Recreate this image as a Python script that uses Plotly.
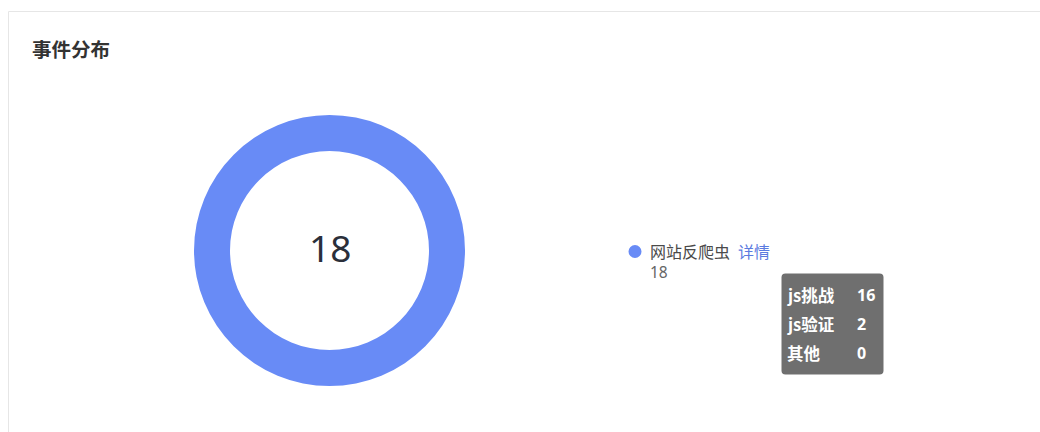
import plotly.graph_objects as go

W, H = 1040, 432

# Data
categories = ["网站反爬虫"]
values = [18]
detail_labels = ["js挑战", "js验证", "其他"]
detail_values = [16, 2, 0]
title_text = "事件分布"
detail_link = "详情"
ring_color = "#688bf6"

def px(x):
    return x / W

def py(y):
    return 1 - y / H

cx, cy, R = 329.5, 250.5, 135.5
hole = 99.5 / 135.5

fig = go.Figure()
fig.add_trace(go.Pie(
    labels=categories, values=values, hole=hole, sort=False,
    marker=dict(colors=[ring_color], line=dict(width=0)),
    textinfo="none", hoverinfo="skip", showlegend=False,
    domain=dict(x=[px(cx - R), px(cx + R)], y=[py(cy + R), py(cy - R)]),
))

CJK = "Noto Sans CJK SC"
anns = []
# title
anns.append(dict(x=px(30), y=py(48), text="<b>" + title_text + "</b>", showarrow=False,
                 xanchor="left", yanchor="middle", font=dict(family=CJK, size=19.5, color="#333333")))
# centre total
anns.append(dict(x=px(cx), y=py(247), text=str(sum(values)), showarrow=False,
                 xanchor="center", yanchor="middle", font=dict(family="Noto Sans", size=37, color="#2b2f3a")))
# legend
anns.append(dict(x=px(648), y=py(251), text=categories[0], showarrow=False,
                 xanchor="left", yanchor="middle", font=dict(family=CJK, size=16, color="#4a4a4a")))
anns.append(dict(x=px(736), y=py(251), text=detail_link, showarrow=False,
                 xanchor="left", yanchor="middle", font=dict(family=CJK, size=16, color="#5b7be0")))
anns.append(dict(x=px(648), y=py(272), text=str(values[0]), showarrow=False,
                 xanchor="left", yanchor="middle", font=dict(family="Noto Sans", size=15.5, color="#666666")))
# tooltip rows
row_y = [295, 324, 353]
for lab, val, yy in zip(detail_labels, detail_values, row_y):
    anns.append(dict(x=px(785), y=py(yy), text="<b>" + lab + "</b>", showarrow=False,
                     xanchor="left", yanchor="middle", font=dict(family=CJK, size=16.5, color="#ffffff")))
    anns.append(dict(x=px(855), y=py(yy), text="<b>" + str(val) + "</b>", showarrow=False,
                     xanchor="left", yanchor="middle", font=dict(family="Noto Sans", size=16, color="#ffffff")))

shapes = []
# card border
shapes.append(dict(type="rect", xref="paper", yref="paper", x0=px(8.5), x1=px(1060), y0=py(460), y1=py(11.5),
                   line=dict(color="#e6e6e6", width=1), fillcolor="rgba(0,0,0,0)", layer="below"))
# legend dot
shapes.append(dict(type="circle", xref="paper", yref="paper", x0=px(628.5), x1=px(641.5), y0=py(258), y1=py(245),
                   line=dict(width=0), fillcolor=ring_color))
# tooltip rounded box
x0, x1, y0, y1, r = 781.5, 883.5, 273.5, 374.5, 4
path = (f"M {px(x0+r)},{py(y0)} L {px(x1-r)},{py(y0)} Q {px(x1)},{py(y0)} {px(x1)},{py(y0+r)} "
        f"L {px(x1)},{py(y1-r)} Q {px(x1)},{py(y1)} {px(x1-r)},{py(y1)} "
        f"L {px(x0+r)},{py(y1)} Q {px(x0)},{py(y1)} {px(x0)},{py(y1-r)} "
        f"L {px(x0)},{py(y0+r)} Q {px(x0)},{py(y0)} {px(x0+r)},{py(y0)} Z")
shapes.append(dict(type="path", xref="paper", yref="paper", path=path,
                   line=dict(width=0), fillcolor="rgba(90,90,90,0.87)", layer="below"))

fig.update_layout(
    width=W, height=H, margin=dict(l=0, r=0, t=0, b=0),
    paper_bgcolor="#ffffff", plot_bgcolor="#ffffff",
    annotations=anns, shapes=shapes, showlegend=False,
)

fig.write_html("out.html", config={"displayModeBar": False, "staticPlot": True},
               post_script="document.body.style.margin='0';document.body.style.overflow='hidden';")
